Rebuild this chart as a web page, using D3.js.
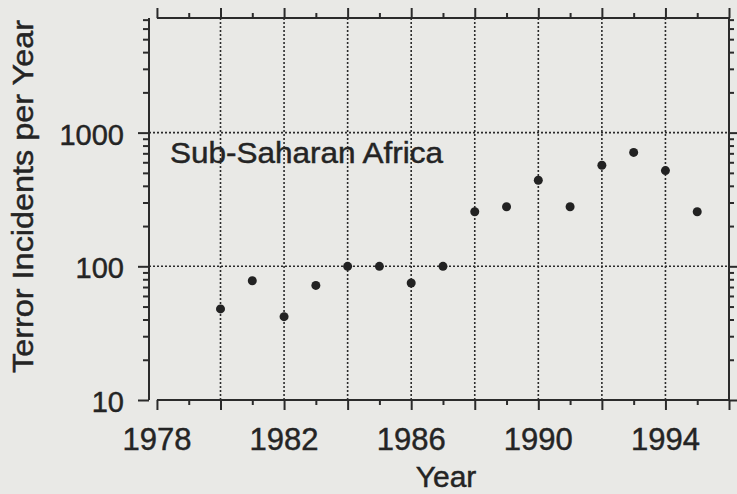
<!DOCTYPE html>
<html>
<head>
<meta charset="utf-8">
<script src="https://cdn.jsdelivr.net/npm/d3@7"></script>
<style>
  html, body { margin: 0; padding: 0; background: #e9e9e6; }
  svg { display: block; }
  text { font-family: "Liberation Sans", Arial, Helvetica, sans-serif; fill: #242424; stroke: #242424; stroke-width: 0.45px; }
</style>
</head>
<body>
<svg id="chart" width="737" height="494"></svg>
<script>
// ---- data ----
const years = [1980, 1981, 1982, 1983, 1984, 1985, 1986, 1987, 1988, 1989, 1990, 1991, 1992, 1993, 1994, 1995];
const incidents = [48, 78, 42, 72, 100, 100, 75, 100, 256, 279, 440, 279, 570, 711, 520, 256];
const xTickLabels = [1978, 1982, 1986, 1990, 1994];
const yTickLabels = [10, 100, 1000];
const regionLabel = "Sub-Saharan Africa";

// ---- layout ----
const W = 737, H = 494;
const pLeft = 149, pRight = 729, pTop = 18, pBottom = 400;
const ink = "#2b2b2b";

const svg = d3.select("#chart");
svg.append("rect").attr("width", W).attr("height", H).attr("fill", "#e9e9e6");

const x = d3.scaleLinear().domain([1977.75, 1996]).range([pLeft, pRight]);
const y = d3.scaleLog().domain([10, 7200]).range([pBottom, pTop]);

const majorYears = d3.range(1978, 1997, 2);
const minorYears = d3.range(1979, 1996, 2);
const gridYears = d3.range(1980, 1995, 2);
const majorY = [10, 100, 1000];
const minorY = [];
[10, 100, 1000].forEach(d => { for (let k = 2; k <= 9; k++) if (d * k <= 7200) minorY.push(d * k); });

// gridlines
const grid = svg.append("g").attr("stroke", ink).attr("stroke-width", 1.6).attr("stroke-dasharray", "2,2");
grid.selectAll("line.v").data(gridYears).join("line").attr("class", "v")
  .attr("x1", d => x(d)).attr("x2", d => x(d)).attr("y1", pTop).attr("y2", pBottom);
grid.selectAll("line.h").data([100, 1000]).join("line").attr("class", "h")
  .attr("x1", pLeft).attr("x2", pRight).attr("y1", d => y(d)).attr("y2", d => y(d));

// axes via d3 (ticks only; frame drawn separately)
function styleAxis(g) {
  g.select(".domain").remove();
  g.selectAll(".tick line").attr("stroke", ink).attr("stroke-width", 2);
  g.selectAll(".tick text").remove();
}
svg.append("g").attr("transform", `translate(0,${pBottom})`)
  .call(d3.axisBottom(x).tickValues(majorYears).tickSize(10)).call(styleAxis);
svg.append("g").attr("transform", `translate(0,${pBottom})`)
  .call(d3.axisBottom(x).tickValues(minorYears).tickSize(5)).call(styleAxis);
svg.append("g").attr("transform", `translate(0,${pTop})`)
  .call(d3.axisTop(x).tickValues(majorYears).tickSize(10)).call(styleAxis);
svg.append("g").attr("transform", `translate(0,${pTop})`)
  .call(d3.axisTop(x).tickValues(minorYears).tickSize(5)).call(styleAxis);
svg.append("g").attr("transform", `translate(${pLeft},0)`)
  .call(d3.axisLeft(y).tickValues(majorY).tickSize(11)).call(styleAxis);
svg.append("g").attr("transform", `translate(${pLeft},0)`)
  .call(d3.axisLeft(y).tickValues(minorY).tickSize(6)).call(styleAxis);
svg.append("g").attr("transform", `translate(${pRight},0)`)
  .call(d3.axisRight(y).tickValues(majorY).tickSize(10)).call(styleAxis);
svg.append("g").attr("transform", `translate(${pRight},0)`)
  .call(d3.axisRight(y).tickValues(minorY).tickSize(5)).call(styleAxis);

// frame
const frame = svg.append("g").attr("stroke", ink).attr("stroke-width", 2).attr("fill", "none");
frame.append("line").attr("x1", x(1978)).attr("x2", x(1996)).attr("y1", pBottom).attr("y2", pBottom);
frame.append("line").attr("x1", x(1978)).attr("x2", x(1996)).attr("y1", pTop).attr("y2", pTop);
frame.append("line").attr("x1", pLeft).attr("x2", pLeft).attr("y1", pTop).attr("y2", pBottom);
frame.append("line").attr("x1", pRight).attr("x2", pRight).attr("y1", pTop).attr("y2", pBottom);

// tick labels
svg.append("g").selectAll("text").data(xTickLabels).join("text")
  .attr("x", d => x(d)).attr("y", 450)
  .attr("text-anchor", "middle").attr("font-size", 31)
  .text(d => d);
svg.append("g").selectAll("text").data(yTickLabels).join("text")
  .attr("x", 124).attr("y", d => y(d) + 12)
  .attr("text-anchor", "end").attr("font-size", 29)
  .text(d => d);

// axis titles
svg.append("text").attr("x", 446).attr("y", 487).attr("text-anchor", "middle")
  .attr("font-size", 30).text("Year");
svg.append("text").attr("transform", "translate(33,373) rotate(-90)")
  .attr("text-anchor", "start").attr("font-size", 30)
  .attr("textLength", 353).attr("lengthAdjust", "spacingAndGlyphs")
  .text("Terror Incidents per Year");

// region label
svg.append("text").attr("x", 170).attr("y", 163).attr("font-size", 29)
  .attr("textLength", 273).attr("lengthAdjust", "spacingAndGlyphs")
  .text(regionLabel);

// points
svg.append("g").selectAll("circle").data(years.map((yr, i) => [yr, incidents[i]])).join("circle")
  .attr("cx", d => x(d[0])).attr("cy", d => y(d[1])).attr("r", 4.5)
  .attr("fill", "#222");
</script>
</body>
</html>
